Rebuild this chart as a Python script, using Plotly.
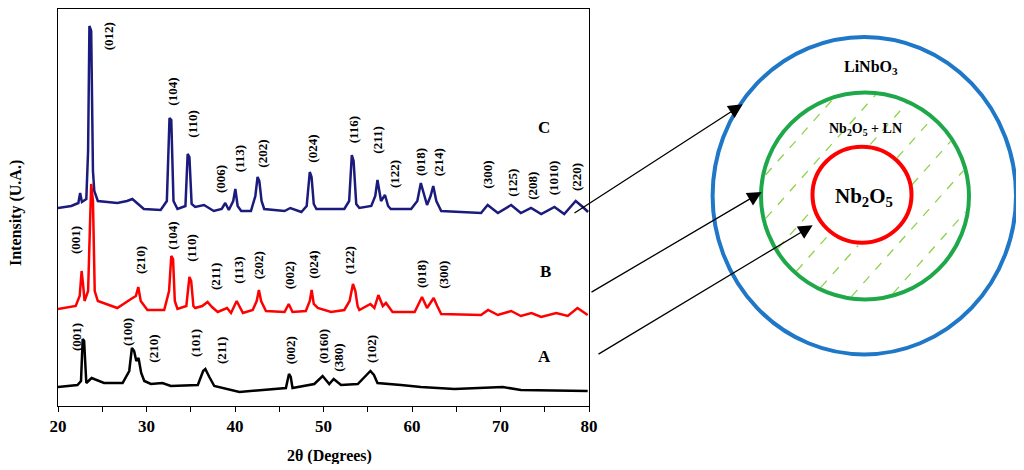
import numpy as np
import plotly.graph_objects as go

W, H = 1024, 470
PAD = 7  # page body margin around the figure

# ---- XRD patterns (2theta in degrees, intensity arbitrary, offset per sample)
tt_A = [20.0, 22.2, 22.6, 22.79, 22.95, 23.2, 23.8, 25.2, 27.3, 28.05, 28.35, 28.6, 28.85, 29.1, 29.4,
        29.75, 30.5, 31.8, 32.75, 35.8, 36.4, 36.65, 37.1, 37.66, 40.5, 45.75, 46.1, 46.3, 46.5,
        48.96, 49.9, 50.65, 51.15, 51.98, 53.87, 54.9, 55.3, 55.7, 56.1, 58.75, 61.0, 64.8, 70.25,
        72.3, 79.85]
int_A = [19, 21, 25, 67, 65, 23, 28, 23, 23, 35, 58, 55, 45, 48, 33,
         25, 22, 23, 20, 21, 35, 37, 29, 20, 14, 18, 32, 29, 18,
         22, 30, 22, 27, 21, 22, 31, 35, 31, 23, 21, 19, 17, 19,
         16, 15]

tt_B = [20.0, 22.0, 22.45, 22.67, 22.85, 23.0, 23.4, 23.55, 23.75, 23.95, 24.15, 24.5, 26.7, 28.25,
        28.8, 29.07, 29.35, 30.1, 32.0, 32.55, 32.8, 33.0, 33.2, 33.5, 34.5, 34.85, 35.05, 35.3,
        35.5, 36.3, 36.9, 37.4, 38.05, 39.1, 39.55, 40.19, 40.9, 42.0, 42.45, 42.7, 42.95, 43.5,
        45.6, 46.07, 46.5, 48.0, 48.45, 48.66, 48.9, 49.35, 50.85, 52.35, 52.95, 53.33, 53.6, 53.85,
        54.05, 55.3, 55.75, 56.2, 56.7, 57.06, 57.8, 60.3, 60.85, 61.13, 61.7, 62.45, 62.85, 63.3,
        67.8, 68.6, 69.7, 71.2, 72.3, 73.5, 74.6, 76.3, 77.6, 78.7, 79.85]
int_B = [97, 100, 110, 135, 120, 105, 115, 165, 222, 205, 115, 105, 98, 107,
         110, 119, 105, 96, 96, 115, 150, 147, 105, 97, 100, 129, 125, 100,
         98, 100, 104, 99, 94, 98, 93, 105, 93, 96, 105, 116, 105, 95,
         94, 102, 94, 95, 105, 116, 102, 98, 94, 96, 105, 122, 115, 100,
         96, 102, 98, 111, 100, 103, 94, 94, 103, 109, 98, 108, 100, 92,
         91, 96, 91, 95, 90, 93, 89, 93, 90, 98, 91]

tt_C = [20.0, 21.5, 22.3, 22.5, 22.7, 23.2, 23.4, 23.55, 23.75, 23.95, 24.1, 24.5, 26.7, 27.8, 28.4,
        29.0, 29.7, 31.6, 32.3, 32.6, 32.8, 33.05, 33.5, 34.4, 34.65, 34.85, 35.1, 35.5, 36.5,
        37.6, 38.5, 38.9, 39.3, 39.8, 40.04, 40.3, 40.7, 41.8, 42.3, 42.55, 42.75, 43.0, 43.3,
        45.6, 46.25, 47.5, 48.1, 48.45, 48.65, 48.9, 49.2, 52.35, 52.9, 53.2, 53.4, 53.7, 54.05,
        55.4, 55.85, 56.1, 56.35, 56.5, 56.95, 57.3, 57.6, 59.9, 60.6, 61.0, 61.25, 61.7, 62.1,
        62.4, 62.75, 63.3, 67.8, 68.55, 69.7, 71.2, 72.3, 73.45, 74.6, 76.1, 77.2, 78.5, 79.3, 79.9]
int_C = [198, 200, 203, 213, 204, 207, 255, 380, 375, 235, 215, 205, 203, 205, 207,
         202, 197, 196, 205, 288, 286, 205, 197, 200, 252, 249, 202, 199, 201,
         195, 197, 203, 196, 205, 217, 200, 195, 195, 210, 229, 225, 205, 197,
         195, 198, 194, 200, 234, 229, 202, 197, 197, 205, 251, 245, 202, 198,
         200, 210, 226, 215, 205, 211, 200, 197, 197, 205, 223, 215, 201, 210,
         220, 205, 195, 193, 201, 193, 201, 193, 198, 192, 199, 192, 205, 199, 194]

# hkl labels: (text, 2theta, intensity)
lab_C = [("(012)", 25.8, 370), ("(104)", 32.96, 314), ("(110)", 35.22, 282), ("(006)", 38.42, 227),
         ("(113)", 40.6, 247), ("(202)", 43.13, 252), ("(024)", 48.78, 257), ("(116)", 53.48, 276),
         ("(211)", 56.12, 266), ("(122)", 58.08, 232), ("(018)", 61.02, 244), ("(214)", 63.08, 244),
         ("(300)", 68.55, 231), ("(125)", 71.38, 223), ("(208)", 73.64, 220), ("(1010)", 76.08, 228),
         ("(220)", 78.64, 229)]
lab_B = [("(001)", 22.03, 166), ("(210)", 29.38, 146), ("(104)", 32.96, 170), ("(110)", 35.11, 158),
         ("(211)", 37.74, 129), ("(113)", 40.31, 136), ("(202)", 42.63, 141), ("(002)", 46.14, 131),
         ("(024)", 48.78, 141), ("(122)", 53.03, 146), ("(018)", 61.02, 132), ("(300)", 63.47, 131)]
lab_A = [("(001)", 22.03, 69), ("(100)", 27.8, 74), ("(210)", 30.7, 57), ("(101)", 35.48, 63),
         ("(211)", 38.42, 55), ("(002)", 46.25, 56), ("(0160)", 49.9, 60), ("(380)", 51.6, 48),
         ("(102)", 55.37, 57)]
sample_names = ["A", "B", "C"]
sample_pos = [(74.95, 50), (75.14, 135), (74.95, 278)]

FONT = "Liberation Serif"
NAVY = "#1b1b7d"
FW, FH = W - 2 * PAD, H - 2 * PAD


def px(x):
    return (x - PAD) / FW


def py(y):
    return 1 - (y - PAD) / FH


def note(x, y, txt, size, ref="paper", angle=0):
    return dict(x=x, y=y, xref="x" if ref == "data" else "paper", yref="y" if ref == "data" else "paper",
                text=txt, showarrow=False, textangle=angle, xanchor="center", yanchor="middle",
                font=dict(family=FONT, size=size, color="black"))


fig = go.Figure()
fig.add_trace(go.Scatter(x=tt_C, y=int_C, mode="lines", line=dict(color=NAVY, width=2.5), name="C"))
fig.add_trace(go.Scatter(x=tt_B, y=int_B, mode="lines", line=dict(color="#ff0000", width=2.5), name="B"))
fig.add_trace(go.Scatter(x=tt_A, y=int_A, mode="lines", line=dict(color="black", width=2.5), name="A"))

ann = []
for txt, xx, yy in lab_C + lab_B + lab_A:
    ann.append(note(xx, yy, "<b>%s</b>" % txt, 13, ref="data", angle=-90))
for s, (xx, yy) in zip(sample_names, sample_pos):
    ann.append(note(xx, yy, "<b>%s</b>" % s, 17, ref="data"))

# axis titles
ann.append(note(px(328), py(455), "<b>2θ (Degrees)</b>", 16))
ann.append(note(px(15), py(212), "<b>Intensity (U.A.)</b>", 16, angle=-90))

# ---- core/shell sketch on the right (pixel positions)
shapes = []
circles = [((863.3, 194.7), 151.7, 158.7, "#1f77c8"),
           ((864, 195), 104, 103.5, "#1fa84a"),
           ((861, 193.7), 49.5, 48, "#ff0000")]

# dashed hatching in the Nb2O5 + LN shell
g_c, g_r = np.array([864.0, 195.0]), 101.5
r_c, r_r = np.array([861.0, 193.7]), 51.0
nrm = np.array([0.747, 0.664])
nrm = nrm / np.linalg.norm(nrm)
dvec = np.array([nrm[1], -nrm[0]])


def chord(p0, c, r):
    b = dvec.dot(p0 - c)
    q = (p0 - c).dot(p0 - c) - r ** 2
    disc = b * b - q
    if disc <= 0:
        return None
    return -b - np.sqrt(disc), -b + np.sqrt(disc)


for off in [687, 716, 745, 774, 803, 832, 861]:
    p0 = off * nrm
    tg = chord(p0, g_c, g_r)
    if tg is None:
        continue
    tr = chord(p0, r_c, r_r)
    segs = [tg] if tr is None else [(tg[0], tr[0]), (tr[1], tg[1])]
    for a, b in segs:
        pa, pb = p0 + a * dvec, p0 + b * dvec
        shapes.append(dict(type="line", xref="paper", yref="paper", x0=px(pa[0]), y0=py(pa[1]),
                           x1=px(pb[0]), y1=py(pb[1]), line=dict(color="#8fd24a", width=1.3, dash="dash")))

for (cx, cy), rx, ry, col in circles:
    shapes.append(dict(type="circle", xref="paper", yref="paper", x0=px(cx - rx), x1=px(cx + rx),
                       y0=py(cy + ry), y1=py(cy - ry), line=dict(color=col, width=4)))

ann.append(note(px(870), py(67), "<b>LiNbO<sub>3</sub></b>", 16))
ann.append(note(px(864), py(128), "<b>Nb<sub>2</sub>O<sub>5</sub> + LN</b>", 14))
ann.append(note(px(863), py(196), "<b>Nb<sub>2</sub>O<sub>5</sub></b>", 21))

# arrows: tip, tail
arrows = [((741.7, 103.3), (572, 213)), ((760.7, 191), (589, 292)), ((811.7, 224.3), (596, 354))]
for (tx, ty), (sx, sy) in arrows:
    ann.append(dict(x=px(tx), y=py(ty), xref="paper", yref="paper", ax=sx - tx, ay=sy - ty,
                    text="", showarrow=True, arrowhead=2, arrowsize=2.2, arrowwidth=1.3,
                    arrowcolor="black", standoff=0))

fig.update_layout(
    template="none",
    width=FW, height=FH, margin=dict(l=0, r=0, t=0, b=0, autoexpand=False),
    paper_bgcolor="white", plot_bgcolor="white", showlegend=False,
    annotations=ann, shapes=shapes,
    xaxis=dict(domain=[px(57), px(588)], range=[20, 80], dtick=10, ticks="outside", ticklen=5,
               showline=True, linecolor="black", linewidth=1, mirror=True, showgrid=False, zeroline=False,
               automargin=False,
               tickfont=dict(family=FONT, size=17, color="black"), tickprefix="<b>", ticksuffix="</b>",
               minor=dict(dtick=5, ticks="outside", ticklen=5, tickcolor="black"), tickcolor="black"),
    yaxis=dict(domain=[py(405), py(8)], range=[0, 397], showticklabels=False, ticks="",
               automargin=False,
               showline=True, linecolor="black", linewidth=1, mirror=True, showgrid=False, zeroline=False),
)

fig.write_html("out.html")
